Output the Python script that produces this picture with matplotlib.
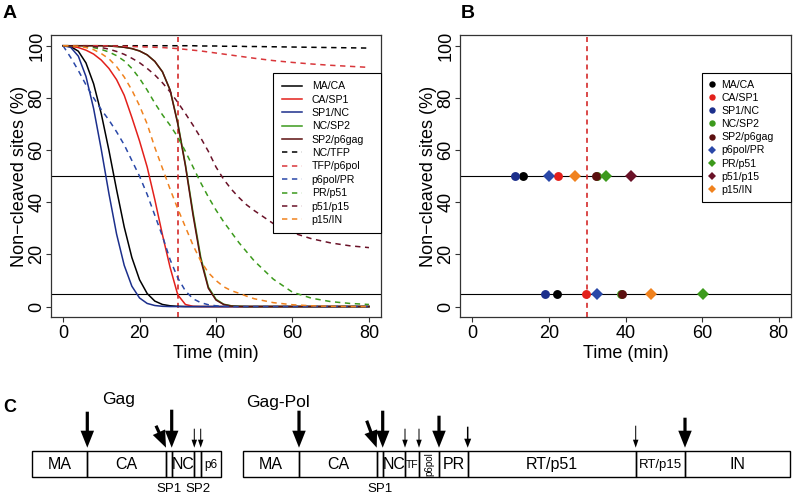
import numpy as np
import matplotlib
matplotlib.use('Agg')
import matplotlib.pyplot as plt
from matplotlib.patches import Rectangle, FancyArrow
from matplotlib.lines import Line2D

plt.rcParams['font.family'] = ['Liberation Sans', 'DejaVu Sans']

# ---------------- data: panel A ----------------
time_min = [0, 2, 4, 6, 8, 10, 12, 14, 16, 18, 20, 22, 24, 26, 28, 30, 32, 34, 36, 38,
            40, 42, 44, 46, 48, 50, 55, 60, 65, 70, 75, 80]

ma_ca = [100, 99.7, 97.9, 93.4, 85.4, 73.9, 59.9, 44.8, 30.5, 18.8, 10.3, 5.0, 2.1, 0.8, 0.3, 0.1,
         0, 0, 0, 0, 0, 0, 0, 0, 0, 0, 0, 0, 0, 0, 0, 0]
ca_sp1 = [100, 99.8, 99.3, 98.3, 96.8, 94.5, 91.3, 87, 81, 72.5, 63.5, 53.5, 41, 27.5, 15, 4.5,
          0.8, 0.1, 0, 0, 0, 0, 0, 0, 0, 0, 0, 0, 0, 0, 0, 0]
sp1_nc = [100, 99.4, 96.0, 88.2, 75.9, 60.2, 43.3, 27.8, 15.8, 7.8, 3.3, 1.2, 0.4, 0.1,
          0, 0, 0, 0, 0, 0, 0, 0, 0, 0, 0, 0, 0, 0, 0, 0, 0, 0]
nc_sp2 = [100, 100, 100, 100, 100, 100, 99.9, 99.7, 99.4, 98.9, 98, 96.5, 94, 90, 83, 70.5,
          54.5, 36, 19, 7.5, 2.8, 0.9, 0.3, 0.1, 0, 0, 0, 0, 0, 0, 0, 0]
sp2_p6gag = [100, 100, 100, 100, 100, 100, 99.9, 99.7, 99.4, 98.9, 98, 96.5, 94, 90, 83, 70,
             54, 35, 18, 7, 2.5, 0.8, 0.2, 0.05, 0, 0, 0, 0, 0, 0, 0, 0]
nc_tfp = [100, 100, 100, 100, 100, 100, 100, 100, 100, 100, 100, 100, 100, 100, 100, 100,
          100, 100, 99.9, 99.9, 99.9, 99.8, 99.8, 99.8, 99.7, 99.7, 99.6, 99.5, 99.4, 99.3, 99.2, 99.1]
tfp_p6pol = [100, 100, 100, 100, 100, 100, 99.9, 99.9, 99.8, 99.7, 99.6, 99.5, 99.4, 99.3, 99.1, 98.9,
             98.6, 98.3, 98, 97.6, 97.2, 96.8, 96.4, 96, 95.6, 95.2, 94.3, 93.6, 93, 92.5, 92.1, 91.7]
p6pol_pr = [100, 95.5, 90.5, 85, 80, 75.5, 71.5, 67, 62, 56, 50, 43, 35, 27, 18, 11,
            6, 3, 1.5, 0.7, 0.3, 0.1, 0, 0, 0, 0, 0, 0, 0, 0, 0, 0]
pr_p51 = [100, 100, 99.9, 99.7, 99.3, 98.6, 97.6, 96.2, 94.2, 91.3, 87.5, 83, 78, 73.5, 69.5, 65,
          59.5, 53.5, 47.5, 42, 37, 32.5, 28.5, 24.5, 21, 17.5, 10.5, 5.5, 3.2, 1.9, 1.2, 0.8]
p51_p15 = [100, 100, 100, 99.9, 99.7, 99.3, 98.7, 97.8, 96.7, 95.2, 93.5, 91.3, 88.8, 85.8, 82.3, 78.3,
           74, 69.5, 64.7, 59.5, 53.5, 48.8, 45, 41.8, 39, 36.8, 31.8, 28.3, 26, 24.4, 23.3, 22.6]
p15_in = [100, 100, 99.8, 99.3, 98.5, 97, 95, 92, 88, 83, 77, 70, 61, 53, 45, 37.5,
          30.5, 23.5, 17.5, 13, 10, 7.6, 6.1, 5.1, 4, 3, 1.5, 0.7, 0.3, 0.1, 0, 0]

series_names = ['MA/CA', 'CA/SP1', 'SP1/NC', 'NC/SP2', 'SP2/p6gag', 'NC/TFP', 'TFP/p6pol',
                'p6pol/PR', 'PR/p51', 'p51/p15', 'p15/IN']
series_values = [ma_ca, ca_sp1, sp1_nc, nc_sp2, sp2_p6gag, nc_tfp, tfp_p6pol,
                 p6pol_pr, pr_p51, p51_p15, p15_in]

# ---------------- data: panel B ----------------
b_names = ['MA/CA', 'CA/SP1', 'SP1/NC', 'NC/SP2', 'SP2/p6gag', 'p6pol/PR', 'PR/p51', 'p51/p15', 'p15/IN']
t_half = [13.3, 22.4, 11.1, 32.6, 32.4, 20.0, 34.9, 41.4, 26.9]
t_95 = [22.0, 29.8, 19.1, 38.8, 39.1, 32.5, 60.2, np.nan, 46.6]

x_ticks = [0, 20, 40, 60, 80]
y_ticks = [0, 20, 40, 60, 80, 100]

# ---------------- data: panel C ----------------
gag_domains = ['MA', 'CA', '', 'NC', '', 'p6']
gag_widths = [55.6, 78.7, 5.7, 22.6, 6.4, 20.0]
gag_below = {2: 'SP1', 4: 'SP2'}
gag_cuts = [1, 2, 3, 4, 5]
gag_cut_size = ['big', 'big', 'big', 'small', 'small']
gag_cut_len = [36, 22, 38, 19, 19]
gag_cut_slant = [0, 10, 0, 0, 0]

pol_domains = ['MA', 'CA', '', 'NC', 'TF', 'p6pol', 'PR', 'RT/p51', 'RT/p15', 'IN']
pol_widths = [55.7, 77.7, 6.0, 22.3, 14.0, 20.0, 28.7, 168.0, 49.3, 105.0]
pol_below = {2: 'SP1'}
pol_cuts = [1, 2, 3, 4, 5, 6, 7, 8, 9]
pol_cut_size = ['big', 'big', 'big', 'small', 'small', 'big', 'mid', 'small', 'big']
pol_cut_len = [37, 27, 37, 19, 19, 32, 21, 22, 30]
pol_cut_slant = [0, 10, 0, 0, 0, 0, 0, 0, 0]

# ---------------- styles ----------------
colors = {'MA/CA': '#000000', 'CA/SP1': '#e3201b', 'SP1/NC': '#1c2f8c', 'NC/SP2': '#3c9a1c',
          'SP2/p6gag': '#5c1010', 'NC/TFP': '#000000', 'TFP/p6pol': '#d9363a',
          'p6pol/PR': '#2a48a8', 'PR/p51': '#3c9a1c', 'p51/p15': '#6a1228', 'p15/IN': '#f0821e'}
dashed = {'NC/TFP', 'TFP/p6pol', 'p6pol/PR', 'PR/p51', 'p51/p15', 'p15/IN'}
markers = {'MA/CA': 'o', 'CA/SP1': 'o', 'SP1/NC': 'o', 'NC/SP2': 'o', 'SP2/p6gag': 'o',
           'p6pol/PR': 'D', 'PR/p51': 'D', 'p51/p15': 'D', 'p15/IN': 'D'}

W, H = 795, 496
fig = plt.figure(figsize=(W / 100, H / 100), dpi=100)


def px_axes(x0, x1, y0, y1):
    return fig.add_axes([x0 / W, 1 - y1 / H, (x1 - x0) / W, (y1 - y0) / H])


axA = px_axes(50.8, 381.2, 35.3, 317)
axB = px_axes(460, 791, 35.3, 317)

DASH = (0, (3.5, 3))


def style(ax):
    ax.set_xlim(-3.2, 83.2)
    ax.set_ylim(-4, 104)
    ax.set_xticks(x_ticks)
    ax.set_yticks(y_ticks)
    ax.set_yticklabels([str(v) for v in y_ticks], rotation=90, va='center')
    ax.tick_params(direction='out', length=3.6, width=0.8, labelsize=13, pad=2.5, color='#333333')
    ax.tick_params(axis='y', pad=0.4)
    for s in ax.spines.values():
        s.set_linewidth(0.9)
        s.set_color('#333333')
    ax.set_xlabel('Time (min)', fontsize=13, labelpad=2)
    ax.set_ylabel('Non\u2212cleaved sites (%)', fontsize=13, labelpad=0.5)
    ax.axhline(50, color='black', lw=0.8, zorder=1)
    ax.axhline(5, color='black', lw=0.8, zorder=1)
    ax.axvline(30, color='#d42a2a', lw=1.2, ls=(0, (3, 2.5)), zorder=1)


style(axA)
style(axB)

handles = []
for name, vals in zip(series_names, series_values):
    ls = DASH if name in dashed else '-'
    ln, = axA.plot(time_min, vals, color=colors[name], lw=1.1, ls=ls, label=name, zorder=2)
    handles.append(ln)

legA = axA.legend(handles=handles, loc='upper left', bbox_to_anchor=(0.673, 0.0, 0.327, 0.867),
                  mode='expand', fontsize=7.6, frameon=True, fancybox=False, edgecolor='black',
                  framealpha=1, borderpad=0.8, labelspacing=0.32, handlelength=1.9,
                  handletextpad=0.95, borderaxespad=0)
legA.get_frame().set_linewidth(0.8)
legA.set_zorder(5)

for name, th, t9 in zip(b_names, t_half, t_95):
    ms = 6.4 if markers[name] == 'o' else 5.8
    axB.plot([th, t9], [50, 5], ls='none', marker=markers[name], color=colors[name],
             markersize=ms, markeredgewidth=0, label=name, zorder=3)

hB = [Line2D([], [], ls='none', marker=markers[n], color=colors[n],
             markersize=(4.6 if markers[n] == 'o' else 4.2), markeredgewidth=0) for n in b_names]
legB = axB.legend(hB, b_names, loc='upper left', bbox_to_anchor=(0.732, 0.0, 0.268, 0.867),
                  mode='expand', fontsize=7.6, frameon=True, fancybox=False, edgecolor='black',
                  framealpha=1, borderpad=0.65, labelspacing=0.3, handlelength=0.47,
                  handletextpad=0.71, borderaxespad=0)
legB.get_frame().set_linewidth(0.8)
legB.set_zorder(5)

# panel letters
fig.text(3 / W, 1 - 14 / H, 'A', fontsize=14, fontweight='bold', ha='left', va='center')
fig.text(461 / W, 1 - 14 / H, 'B', fontsize=14, fontweight='bold', ha='left', va='center')
fig.text(3 / W, 1 - 407 / H, 'C', fontsize=13, fontweight='bold', ha='left', va='center')

# ---------------- panel C ----------------
axC = px_axes(0, W, 380, H)
axC.set_xlim(0, W)
axC.set_ylim(H, 380)
axC.axis('off')

BOX_TOP, BOX_BOT = 450.7, 477.3
arrow_style = {'big': dict(width=3.2, head_width=13.5, head_length=17),
               'mid': dict(width=1.5, head_width=7, head_length=9),
               'small': dict(width=1.0, head_width=5.5, head_length=8)}
label_size = {'TF': 7.5, 'RT/p15': 9.5, 'p6': 8.5, 'p6pol': 7}


def draw_protein(x0, names, widths, below, cuts, sizes, lens, slants, label, label_xy):
    bounds = [x0]
    for w in widths:
        bounds.append(bounds[-1] + w)
    for i, (nm, w) in enumerate(zip(names, widths)):
        xl = bounds[i]
        axC.add_patch(Rectangle((xl, BOX_TOP), w, BOX_BOT - BOX_TOP, fill=False,
                                ec='black', lw=1.0))
        xc = xl + w / 2
        yc = (BOX_TOP + BOX_BOT) / 2
        if nm == 'p6pol':
            axC.text(xc, yc, nm, rotation=90, ha='center', va='center',
                     fontsize=label_size[nm])
        elif nm:
            axC.text(xc, yc + 0.5, nm, ha='center', va='center',
                     fontsize=label_size.get(nm, 11.5))
    for i, t in below.items():
        xc = (bounds[i] + bounds[i + 1]) / 2
        axC.text(xc, 488.5, t, ha='center', va='center', fontsize=9.5)
    for c, s, L, sl in zip(cuts, sizes, lens, slants):
        xt = bounds[c]
        yt = BOX_TOP - 3
        axC.add_patch(FancyArrow(xt - sl, yt - L, sl, L, length_includes_head=True,
                                 color='black', lw=0, **arrow_style[s]))
    axC.text(label_xy[0], label_xy[1], label, ha='left', va='baseline', fontsize=12.5)


draw_protein(31.7, gag_domains, gag_widths, gag_below, gag_cuts, gag_cut_size,
             gag_cut_len, gag_cut_slant, 'Gag', (102, 404))
draw_protein(243.3, pol_domains, pol_widths, pol_below, pol_cuts, pol_cut_size,
             pol_cut_len, pol_cut_slant, 'Gag-Pol', (246, 407))

fig.savefig('out.png', dpi=100)
